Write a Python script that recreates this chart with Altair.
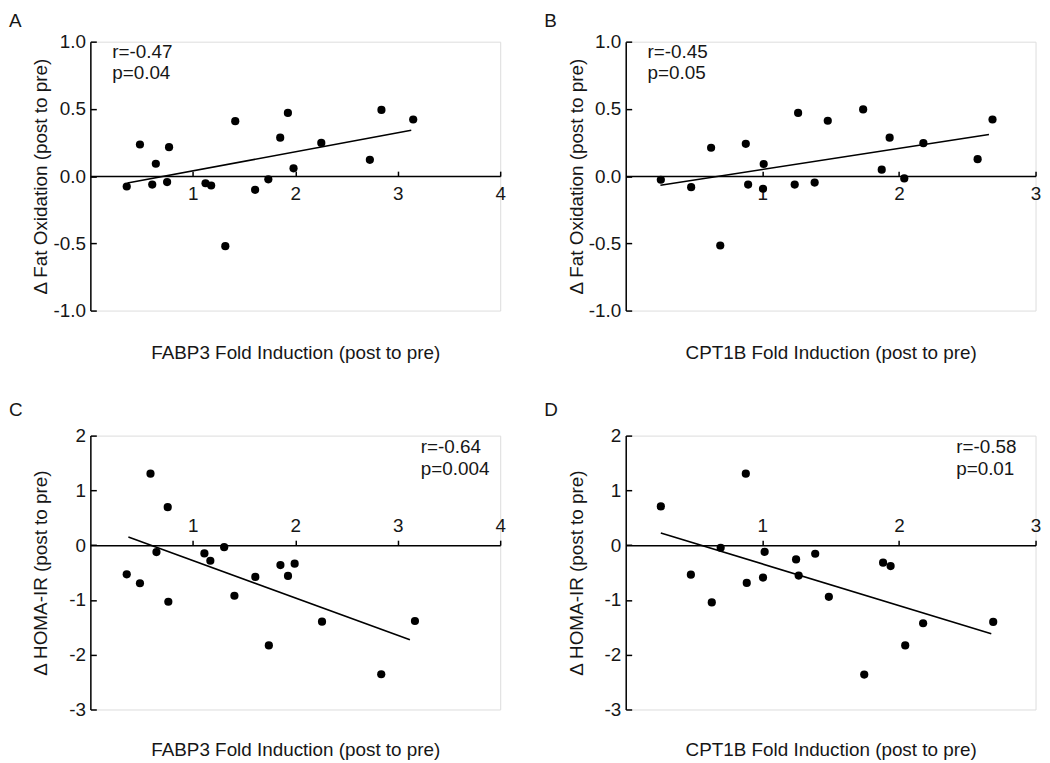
import altair as alt
import pandas as pd

# ---------------- data ----------------
# Panel A: FABP3 fold induction vs delta fat oxidation
a_x = [0.355, 0.484, 0.604, 0.639, 0.749, 0.768, 1.124, 1.179, 1.317, 1.414,
       1.608, 1.737, 1.853, 1.928, 1.983, 2.254, 2.728, 2.841, 3.151]
a_y = [-0.077, 0.235, -0.063, 0.092, -0.044, 0.215, -0.053, -0.070, -0.521, 0.409,
       -0.102, -0.024, 0.286, 0.470, 0.058, 0.247, 0.121, 0.492, 0.421]
a_fit_x = [0.362, 3.132]
a_fit_y = [-0.051, 0.341]

# Panel B: CPT1B fold induction vs delta fat oxidation
b_x = [0.257, 0.479, 0.625, 0.692, 0.879, 0.896, 1.005, 1.010, 1.237, 1.262,
       1.383, 1.479, 1.738, 1.874, 1.932, 2.039, 2.179, 2.576, 2.685]
b_y = [-0.027, -0.082, 0.211, -0.516, 0.240, -0.063, -0.094, 0.090, -0.063, 0.470,
       -0.048, 0.412, 0.496, 0.048, 0.286, -0.017, 0.245, 0.126, 0.421]
b_fit_x = [0.254, 2.659]
b_fit_y = [-0.068, 0.310]

# Panel C: FABP3 fold induction vs delta HOMA-IR
c_x = [0.355, 0.484, 0.587, 0.645, 0.755, 0.761, 1.113, 1.171, 1.306, 1.406,
       1.610, 1.742, 1.855, 1.929, 1.994, 2.261, 2.839, 3.168]
c_y = [-0.532, -0.695, 1.305, -0.127, 0.695, -1.033, -0.151, -0.284, -0.036, -0.924,
       -0.580, -1.831, -0.363, -0.562, -0.338, -1.396, -2.357, -1.384]
c_fit_x = [0.371, 3.119]
c_fit_y = [0.151, -1.728]

# Panel D: CPT1B fold induction vs delta HOMA-IR
d_x = [0.257, 0.477, 0.630, 0.695, 0.879, 0.886, 1.005, 1.017, 1.247, 1.266,
       1.387, 1.487, 1.746, 1.884, 1.939, 2.046, 2.177, 2.690]
d_y = [0.707, -0.538, -1.045, -0.048, 1.305, -0.689, -0.592, -0.121, -0.260, -0.556,
       -0.157, -0.943, -2.363, -0.320, -0.381, -1.831, -1.426, -1.402]
d_fit_x = [0.257, 2.676]
d_fit_y = [0.224, -1.619]

fabp3_ticks = [1, 2, 3, 4]
cpt1b_ticks = [1, 2, 3]
fat_ticks = [-1.0, -0.5, 0.0, 0.5, 1.0]
homa_ticks = [-3, -2, -1, 0, 1, 2]

# ---------------- layout / style ----------------
W = 413
FS = 19
TXT = "#161616"
MINUS = "\u2212"


def panel(letter, px, py, fx, fy, xmax, xvals, ymin, ymax, yvals, yfmt,
          xtitle, ytitle, r_txt, p_txt, ann_dx, ann_dy, labels_below,
          H, title_gap, letter_dy):
    zero_off = -H * ymax / (ymax - ymin)
    xscale = alt.Scale(domain=[0, xmax], nice=False, zero=False)
    yscale = alt.Scale(domain=[ymin, ymax], nice=False, zero=False)
    xaxis = alt.Axis(
        orient="top", offset=zero_off, values=xvals, grid=False, format="d",
        tickSize=5, tickWidth=1.5, tickColor="black",
        domainWidth=1.5, domainColor="black",
        labelFontSize=FS, labelColor=TXT, labelFlush=False, labelAngle=0,
        labelPadding=(-13.5 if labels_below else 5),
        labelBaseline=("top" if labels_below else "bottom"),
        title=xtitle, titleFontSize=FS, titleFontWeight="normal", titleColor=TXT,
        titleY=H + title_gap + zero_off, titleBaseline="middle", titleAlign="center",
        titleX=W / 2,
    )
    yaxis = alt.Axis(
        orient="right", offset=-W, values=yvals, grid=False,
        tickSize=6, tickWidth=1.5, tickColor="black",
        domainWidth=1.5, domainColor="black",
        labelFontSize=FS, labelColor=TXT, labelAlign="right", labelPadding=-11,
        labelBaseline="middle", labelFlush=False,
        labelExpr=f"replace(format(datum.value, '{yfmt}'), '{MINUS}', '-')",
        title=ytitle, titleFontSize=FS, titleFontWeight="normal", titleColor=TXT,
        titleAngle=270, titleX=-50, titleY=H / 2, titleAlign="center",
        titleBaseline="middle",
    )
    pts = alt.Chart(pd.DataFrame({"x": px, "y": py})).mark_circle(
        size=68, color="black", opacity=1
    ).encode(
        x=alt.X("x:Q", scale=xscale, axis=xaxis),
        y=alt.Y("y:Q", scale=yscale, axis=yaxis),
    )
    fit = alt.Chart(pd.DataFrame({"x": fx, "y": fy})).mark_line(
        color="black", strokeWidth=1.6
    ).encode(x=alt.X("x:Q", scale=xscale), y=alt.Y("y:Q", scale=yscale))
    one = alt.Data(values=[{}])
    r_mark = alt.Chart(one).mark_text(
        text=r_txt, fontSize=FS, align="left", baseline="middle", color=TXT
    ).encode(x=alt.value(ann_dx), y=alt.value(ann_dy))
    p_mark = alt.Chart(one).mark_text(
        text=p_txt, fontSize=FS, align="left", baseline="middle", color=TXT
    ).encode(x=alt.value(ann_dx), y=alt.value(ann_dy + 21.5))
    let = alt.Chart(one).mark_text(
        text=letter, fontSize=FS, align="left", baseline="middle", color=TXT
    ).encode(x=alt.value(-82), y=alt.value(letter_dy))
    return alt.layer(pts, fit, r_mark, p_mark, let).properties(width=W, height=H)


H_TOP, H_BOT = 271, 276

pA = panel("A", a_x, a_y, a_fit_x, a_fit_y, 4, fabp3_ticks, -1, 1, fat_ticks, ".1f",
           "FABP3 Fold Induction (post to pre)", "\u0394 Fat Oxidation (post to pre)",
           "r=-0.47", "p=0.04", 22, 10, True, H_TOP, 42.5, -21)
pB = panel("B", b_x, b_y, b_fit_x, b_fit_y, 3, cpt1b_ticks, -1, 1, fat_ticks, ".1f",
           "CPT1B Fold Induction (post to pre)", "\u0394 Fat Oxidation (post to pre)",
           "r=-0.45", "p=0.05", 22, 10, True, H_TOP, 42.5, -21)
pC = panel("C", c_x, c_y, c_fit_x, c_fit_y, 4, fabp3_ticks, -3, 2, homa_ticks, "d",
           "FABP3 Fold Induction (post to pre)", "\u0394 HOMA-IR (post to pre)",
           "r=-0.64", "p=0.004", 333, 12, False, H_BOT, 40, -26)
pD = panel("D", d_x, d_y, d_fit_x, d_fit_y, 3, cpt1b_ticks, -3, 2, homa_ticks, "d",
           "CPT1B Fold Induction (post to pre)", "\u0394 HOMA-IR (post to pre)",
           "r=-0.58", "p=0.01", 333, 12, False, H_BOT, 40, -26)

chart = alt.concat(
    pA, pB, pC, pD, columns=2,
    spacing={"row": 126, "column": 126.5}, bounds="flush",
).properties(
    padding={"left": 0, "top": 0, "right": 0, "bottom": 0}
).configure_view(strokeWidth=0, stroke="transparent").configure(
    font="Liberation Sans"
)

chart.save("out.html", embed_options={"renderer": "svg", "actions": False})
